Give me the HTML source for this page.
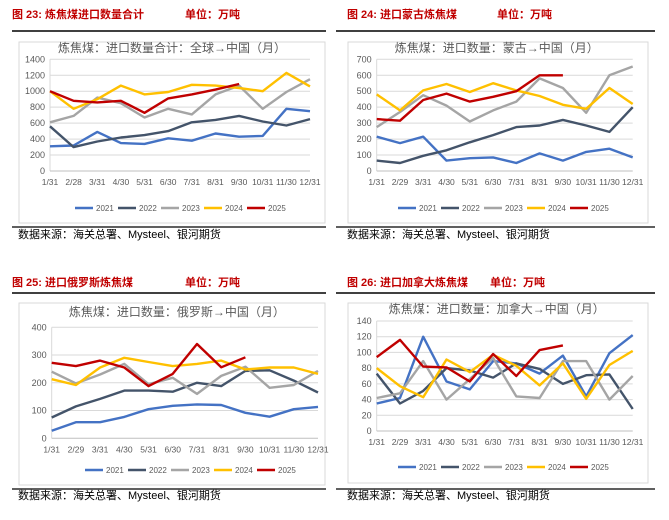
<!DOCTYPE html>
<html><head><meta charset="utf-8"><style>
html,body{margin:0;padding:0;background:#fff;}
svg{display:block;font-family:"Liberation Sans","Noto Sans CJK SC",sans-serif;}
</style></head><body>
<svg id="s" width="669" height="520" viewBox="0 0 669 520" xmlns="http://www.w3.org/2000/svg"></svg>
<script>
const categories = ["1/31","2/28","3/31","4/30","5/31","6/30","7/31","8/31","9/30","10/31","11/30","12/31"];
const categories29 = ["1/31","2/29","3/31","4/30","5/31","6/30","7/31","8/31","9/30","10/31","11/30","12/31"];
const seriesNames = ["2021","2022","2023","2024","2025"];
const seriesColors = ["#4472C4","#44546A","#A5A5A5","#FFC000","#C00000"];

const total2021 = [310,320,490,350,340,410,380,470,430,440,780,750];
const total2022 = [560,300,370,420,450,500,610,640,690,620,570,650];
const total2023 = [610,690,920,850,670,780,710,960,1070,780,990,1150];
const total2024 = [1000,780,900,1070,960,990,1080,1070,1040,1000,1230,1060];
const total2025 = [1000,880,860,880,730,910,960,1020,1090];
const totalTicks = [0,200,400,600,800,1000,1200,1400];

const mongolia2021 = [215,175,215,65,80,85,50,110,65,120,140,85];
const mongolia2022 = [65,50,95,130,180,225,275,285,320,285,245,400];
const mongolia2023 = [275,370,475,410,310,380,435,580,520,365,600,655];
const mongolia2024 = [480,380,505,545,495,550,505,470,415,390,520,420];
const mongolia2025 = [325,315,445,485,435,465,500,600,600];
const mongoliaTicks = [0,100,200,300,400,500,600,700];

const russia2021 = [27,58,58,77,105,117,122,120,92,78,105,113];
const russia2022 = [75,115,142,172,172,168,200,188,243,245,208,165];
const russia2023 = [240,198,230,268,195,218,160,225,258,182,192,243];
const russia2024 = [213,192,255,290,275,260,268,280,248,255,255,232];
const russia2025 = [272,260,280,255,188,232,340,256,292];
const russiaTicks = [0,100,200,300,400];

const canada2021 = [35,42,120,63,53,89,86,73,96,44,99,122];
const canada2022 = [73,35,51,80,77,68,86,79,60,71,72,28];
const canada2023 = [42,48,89,40,66,93,44,42,89,89,40,70];
const canada2024 = [80,57,43,91,75,97,83,58,86,41,84,102];
const canada2025 = [94,116,82,81,63,98,70,103,109];
const canadaTicks = [0,20,40,60,80,100,120,140];

const NS="http://www.w3.org/2000/svg";
const svg=document.getElementById('s');
function mk(tag,attrs,parent,text){const e=document.createElementNS(NS,tag);for(const k in attrs)e.setAttribute(k,attrs[k]);if(text!==undefined)e.textContent=text;(parent||svg).appendChild(e);return e;}

const panels=[
 {key:"total",fig:"图 23: 炼焦煤进口数量合计",unitX:185,title:"炼焦煤：进口数量合计：全球→中国（月）",hx:12,hy:18,srcX:18,lineX1:12,lineX2:326,lineY:31,bottomY:227,src:238,box:[19,42,306,181],x0:50,x1:310,y0:171,y1:59.3,max:1400,ticks:totalTicks,cats:categories,data:[total2021,total2022,total2023,total2024,total2025],legY:208,titleY:52,legX:75},
 {key:"mongolia",fig:"图 24: 进口蒙古炼焦煤",unitX:497,title:"炼焦煤：进口数量：蒙古→中国（月）",hx:347,hy:18,srcX:347,lineX1:336,lineX2:655,lineY:31,bottomY:227,src:238,box:[348,42,300,181],x0:376.7,x1:632.7,y0:171,y1:59.3,max:700,ticks:mongoliaTicks,cats:categories29,data:[mongolia2021,mongolia2022,mongolia2023,mongolia2024,mongolia2025],legY:208,titleY:52,legX:398},
 {key:"russia",fig:"图 25: 进口俄罗斯炼焦煤",unitX:185,title:"炼焦煤：进口数量：俄罗斯→中国（月）",hx:12,hy:286,srcX:18,lineX1:12,lineX2:326,lineY:293,bottomY:489,src:499,box:[19,303,306,182],x0:51.7,x1:318,y0:438.3,y1:327.3,max:400,ticks:russiaTicks,cats:categories29,data:[russia2021,russia2022,russia2023,russia2024,russia2025],legY:470,titleY:316,legX:85},
 {key:"canada",fig:"图 26: 进口加拿大炼焦煤",unitX:490,title:"炼焦煤：进口数量：加拿大→中国（月）",hx:347,hy:286,srcX:347,lineX1:336,lineX2:655,lineY:293,bottomY:489,src:499,box:[348,303,300,180],x0:376.7,x1:632.7,y0:431,y1:321,max:140,ticks:canadaTicks,cats:categories29,data:[canada2021,canada2022,canada2023,canada2024,canada2025],legY:467,titleY:313,legX:398}
];

panels.forEach(p=>{
 const g=mk('g',{});
 
 
 const h=mk('text',{x:p.hx,y:p.hy,'font-size':11,'font-weight':'bold',fill:'#C00000'},g,p.fig);
 
 const u=mk('text',{x:p.unitX,y:p.hy,'font-size':11,'font-weight':'bold',fill:'#C00000'},g,'单位：万吨');
 
 mk('line',{x1:p.lineX1,x2:p.lineX2,y1:p.lineY,y2:p.lineY,stroke:'#000','stroke-width':1.5},g);
 mk('line',{x1:p.lineX1,x2:p.lineX2,y1:p.bottomY,y2:p.bottomY,stroke:'#000','stroke-width':1.2},g);
 const s=mk('text',{x:p.srcX,y:p.src,'font-size':11,fill:'#000'},g,'数据来源：海关总署、Mysteel、银河期货');
 
 mk('rect',{x:p.box[0],y:p.box[1],width:p.box[2],height:p.box[3],fill:'#fff',stroke:'#D9D9D9','stroke-width':1},g);
 const t=mk('text',{x:(p.x0+p.x1)/2-8,y:p.titleY,'font-size':12,fill:'#595959','text-anchor':'middle'},g,p.title);
 
 const ys=v=>p.y0-(v/p.max)*(p.y0-p.y1);
 const xs=i=>p.x0+i*(p.x1-p.x0)/11;
 p.ticks.forEach(v=>{
  const y=ys(v);
  if(v>0){const gl=mk('line',{x1:p.x0,x2:p.x1,y1:y,y2:y,stroke:'#D9D9D9','stroke-width':1},g);
   }
  const tl=mk('text',{x:p.x0-5,y:y+3,'font-size':9,fill:'#595959','text-anchor':'end'},g,String(v));
  
 });
 mk('line',{x1:p.x0,x2:p.x0,y1:p.y1,y2:p.y0,stroke:'#D9D9D9','stroke-width':1},g);
 mk('line',{x1:p.x0,x2:p.x1,y1:p.y0,y2:p.y0,stroke:'#BFBFBF','stroke-width':1},g);
 p.cats.forEach((c,i)=>{
  const xl=mk('text',{x:xs(i),y:p.y0+14,'font-size':8.5,fill:'#595959','text-anchor':'middle'},g,c);
  
 });
 p.data.forEach((arr,si)=>{
  const pts=arr.map((v,i)=>xs(i).toFixed(1)+','+ys(v).toFixed(1)).join(' ');
  const pl=mk('polyline',{points:pts,fill:'none',stroke:seriesColors[si],'stroke-width':2.4,'stroke-linejoin':'round'},g);
  
  
 });
 seriesNames.forEach((n,si)=>{
  const lx=p.legX+si*43;
  const lg=mk('g',{},g);
  
  
  mk('line',{x1:lx,x2:lx+18,y1:p.legY,y2:p.legY,stroke:seriesColors[si],'stroke-width':2.4},lg);
  mk('text',{x:lx+21,y:p.legY+3,'font-size':8,fill:'#595959'},lg,n);
 });
});
</script>
</body></html>
